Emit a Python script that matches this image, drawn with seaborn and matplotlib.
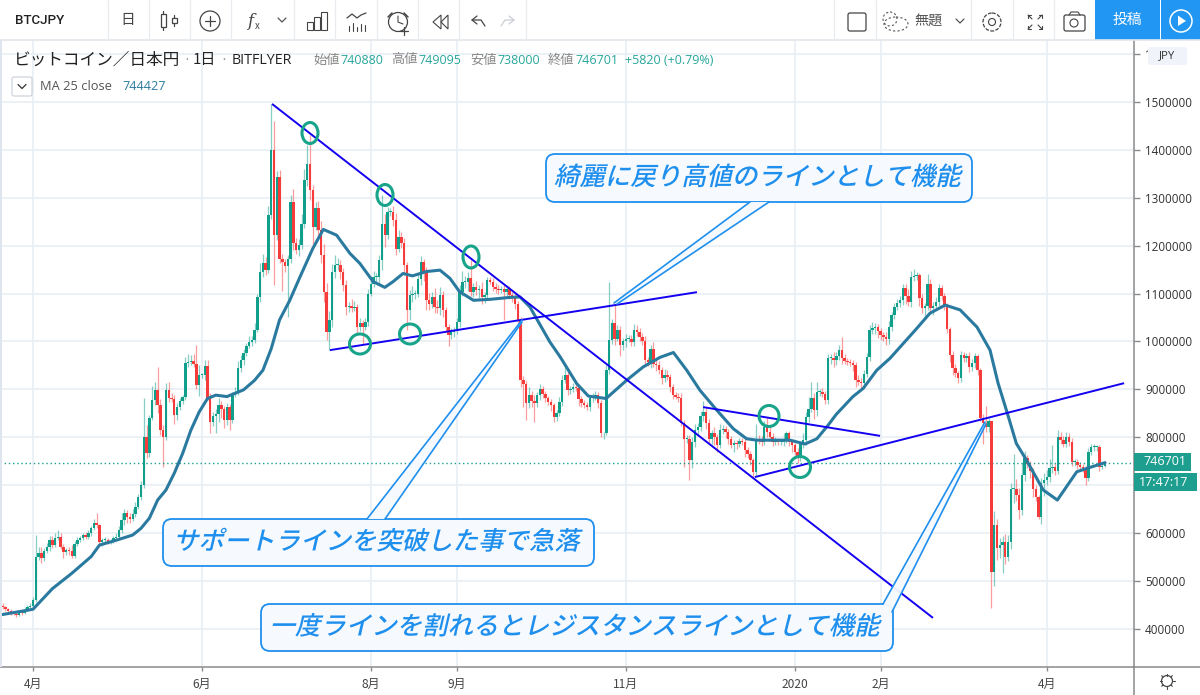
import numpy as np, pandas as pd, matplotlib
matplotlib.use("Agg")
import matplotlib.pyplot as plt
import seaborn as sns
from matplotlib.patches import Rectangle, Ellipse, FancyBboxPatch, Circle, Polygon
from matplotlib.patheffects import AbstractPathEffect
from matplotlib.transforms import Affine2D

# ---------- data (thousand yen) ----------
first_day = -11
closes = [
445,441,438,434,432,430,436,434,440,445,
448,460,551,558,548,562,570,585,575,590,
592,571,560,565,563,553,577,586,590,596,
592,600,610,621,616,581,585,586,582,584,
590,592,606,627,642,634,630,640,655,675,
700,800,767,840,878,899,867,815,801,899,
882,880,847,864,875,884,955,957,960,953,
909,930,930,948,882,832,845,848,867,860,
836,864,836,888,895,945,961,976,990,999,
1003,1024,1093,1145,1163,1150,1264,1400,1222,1344,
1173,1165,1158,1173,1292,1205,1190,1201,1246,1337,
1370,1316,1240,1278,1232,1180,1104,1020,1045,1145,
1160,1160,1145,1118,1072,1075,1069,1072,1031,1038,
1030,1041,1100,1121,1135,1135,1170,1246,1222,1271,
1271,1253,1194,1219,1205,1159,1065,1097,1100,1100,
1130,1166,1142,1086,1079,1093,1072,1069,1097,1065,
1031,1013,1020,1024,1041,1104,1125,1125,1132,1104,
1114,1107,1110,1093,1097,1128,1125,1114,1110,1107,
1110,1104,1110,1097,1093,1079,1045,919,912,871,
888,875,871,888,900,890,881,874,867,843,
850,874,919,930,898,900,905,902,880,871,
868,864,881,885,888,871,808,808,940,1003,
1038,1006,1024,992,1000,1006,1006,999,1024,1020,
1010,1000,961,958,985,954,950,940,923,930,
926,905,888,885,881,829,797,797,752,790,
815,822,845,853,829,797,808,800,784,815,
818,812,797,784,788,787,792,790,773,765,
752,728,797,795,790,822,812,801,790,792,
790,790,795,808,790,784,770,756,787,794,
843,860,881,857,895,895,890,878,965,965,
961,970,982,965,960,958,955,951,920,915,
913,933,968,1024,1028,1031,1022,1013,1010,1005,
1030,1055,1073,1080,1087,1111,1095,1083,1135,1137,
1138,1090,1069,1075,1121,1069,1075,1083,1111,1095,
1076,1027,972,944,935,923,972,965,970,947,
955,970,940,840,830,822,834,519,617,568,
575,582,551,582,693,693,680,648,721,756,
745,730,693,676,634,704,710,718,735,738,
730,801,795,787,801,790,749,749,742,738,
735,714,770,780,780,780,738,741,747]
upper_wick = [
8,3,3,4,3,3,4,3,5,5,
6,6,45,12,14,6,10,8,8,10,
14,8,6,4,5,12,6,5,4,5,
6,6,5,8,20,4,5,5,4,4,
4,8,8,14,8,6,8,10,10,6,
8,82,25,6,30,16,48,12,10,14,
16,10,8,8,6,5,12,16,12,14,
40,20,5,14,14,10,8,12,14,8,
6,8,6,6,10,14,10,8,6,12,
8,14,6,18,20,14,18,95,60,12,
14,10,8,8,14,26,12,14,20,24,
40,62,10,14,16,20,24,18,18,16,
20,14,10,8,10,8,14,12,6,12,
6,8,10,8,12,8,10,60,20,10,
8,12,16,14,10,12,8,10,16,8,
10,12,6,14,16,10,18,14,16,8,
8,6,8,6,8,14,22,12,14,38,
8,12,8,14,6,6,6,8,8,8,
6,8,6,6,6,8,6,6,8,6,
16,8,14,6,12,8,6,6,6,4,
6,10,12,20,12,8,8,10,6,6,
6,6,6,8,8,6,6,4,10,122,
10,38,10,8,8,10,8,8,12,10,
8,8,12,6,8,14,10,10,6,12,
10,6,6,6,8,12,8,8,8,10,
12,8,10,22,8,10,8,14,6,12,
8,6,6,6,6,6,6,6,6,6,
6,4,30,8,8,12,21,10,8,8,
6,6,14,6,6,6,4,8,6,14,
10,25,35,12,20,6,8,6,8,8,
14,8,10,28,8,6,6,6,6,10,
8,8,8,10,12,8,6,6,6,10,
12,6,8,8,8,8,8,14,12,14,
8,4,10,6,20,10,8,10,8,6,
6,4,4,8,8,4,8,6,6,8,
8,6,4,4,8,35,6,0,30,12,
14,12,16,14,12,73,20,14,26,15,
8,6,6,8,4,12,16,14,20,45,
8,14,10,8,10,8,8,6,6,6,
6,6,8,6,6,4,4,4,3]
lower_wick = [
4,3,3,4,4,6,3,4,3,3,
4,5,4,8,10,6,4,8,6,5,
5,4,12,6,8,6,4,4,5,4,
4,4,6,4,6,5,8,4,4,4,
4,4,4,6,10,12,8,4,6,4,
6,6,11,8,4,10,16,10,63,6,
8,6,20,10,8,6,6,8,6,6,
8,22,6,10,4,22,8,36,16,20,
16,10,20,6,4,6,8,10,6,4,
8,6,4,10,10,12,6,8,104,10,
10,60,12,106,10,14,8,12,8,10,
12,20,36,8,12,16,22,16,38,14,
12,10,14,12,16,10,8,6,14,10,
35,6,8,6,8,12,14,20,24,8,
10,12,14,8,10,20,40,20,14,12,
8,12,16,20,14,10,12,10,14,14,
10,22,8,10,8,10,8,14,20,10,
12,10,16,14,12,8,6,8,8,8,
6,60,8,8,10,12,8,14,48,35,
10,12,40,8,10,8,8,6,12,11,
8,6,8,6,10,8,6,6,14,8,
6,8,10,8,8,10,8,11,4,8,
8,14,6,22,10,12,8,8,8,8,
10,8,8,10,14,8,12,8,12,8,
6,10,8,6,8,6,59,8,41,16,
10,12,8,12,12,10,10,16,14,6,
8,14,10,6,14,12,8,6,14,8,
10,11,6,10,8,6,12,8,8,6,
6,6,8,6,8,14,8,10,6,10,
10,12,8,18,12,8,6,8,8,12,
14,10,8,12,8,8,6,12,16,6,
14,10,8,8,8,12,14,10,8,12,
10,8,8,8,8,10,16,8,12,8,
8,16,10,22,10,12,14,10,8,8,
10,10,14,14,10,10,8,8,8,10,
8,10,10,6,44,10,10,76,30,25,
20,59,16,10,15,30,14,18,10,12,
10,14,18,10,4,14,26,10,12,10,
8,6,10,8,8,8,8,8,8,6,
8,14,6,8,8,8,8,5,4]
ma_days = [-11,0,7,14,21,24,30,36,39,42,45,48,51,54,57,60,63,66,70,73,76,80,83,86,89,
 92.7,96.4,101,104.8,109.6,114.4,118,122.8,127,130,133.6,137,142,146.9,150.5,154,159,165,172,175.8,179.4,186.6,
 190.3,196.3,200.5,206.9,214.3,220.3,226.4,231.2,236,240.8,246.8,252.8,257.6,261.3,268.5,273.3,278.7,283,
 287,290,296,299.7,304.6,309.4,314.2,319,323.8,329.3,334.7,340.8,345.5,348.4,351.6,355,358.7,364.7,369.8,376.8,380.4,387]
ma_values = [430,441,484,516,551,575,585,596,610,631,669,690,725,766,815,853,881,888,885,892,899,919,940,985,1045,
 1086,1135,1194,1234,1222,1184,1163,1125,1113,1125,1142,1137,1146,1149,1132,1104,1086,1088,1092,1093,1072,999,
 968,912,886,881,919,947,967,977,940,898,857,818,797,794,794,794,786,797,
 825,848,885,902,940,965,996,1027,1059,1076,1066,1030,982,913,853,787,752,690,669,728,735,747]
month_days = [0,61,122,153,214,275,306,366]
month_labels = ["4月","6月","8月","9月","11月","2020","2月","4月"]
price_ticks = [400,500,600,700,800,900,1000,1100,1200,1300,1400,1500,1600]
# tags hide the 700000 label and all of 1600000 but its first digit
price_labels = ["400000","500000","600000","","800000","900000","1000000","1100000","1200000","1300000","1400000","1500000","1"]
last_price = 746.701
# hand-drawn trend lines: (day, k-yen) start/end
trend_days = [(86.3,324.9),(107.2,239.7),(241.9,305.8),(260.6,393.9)]
trend_vals = [(1496,423),(982,1103),(863,803),(717,913)]

W, H = 1200, 695
UP, DOWN = "#119e8b", "#f63c3a"
BLUE_LINE = "#1400f0"
CALL = "#1f8fee"
CJK = "Noto Sans CJK JP"
sns.set_theme(style="white")
plt.rcParams['font.family'] = [CJK, 'DejaVu Sans']

df = pd.DataFrame({"close": closes, "up": upper_wick, "low": lower_wick})
df["day"] = first_day + np.arange(len(df))
df["open"] = df["close"].shift(1).fillna(446)
df["top"] = df[["open","close"]].max(axis=1)
df["bot"] = df[["open","close"]].min(axis=1)
df["high"] = df["top"] + df["up"]
df["lowv"] = df["bot"] - df["low"]
df["col"] = np.where(df["close"] >= df["open"], UP, DOWN)

fig = plt.figure(figsize=(W/100, H/100), dpi=100, facecolor="white")
ax = fig.add_axes([0, (H-667)/H, 1134/W, 627/H])
ax.set_xlim(-33/2.77, (1134-33)/2.77)
ax.set_ylim(1500-(667-102)*2.0877, 1500+(102-40)*2.0877)

ax.vlines(df["day"], df["lowv"], df["high"], colors=df["col"], linewidth=0.9, alpha=0.5, zorder=2)
ax.bar(df["day"], (df["top"]-df["bot"]).clip(lower=2), bottom=df["bot"], width=0.88, color=df["col"], linewidth=0, zorder=3)
sns.lineplot(x=ma_days, y=ma_values, ax=ax, color="#2a7aa0", linewidth=2.2, zorder=4, legend=False)
ax.axhline(last_price, color="#1d9e8f", lw=1, ls=(0,(1,2)), zorder=2)
for (a,b),(c,d) in zip(trend_days, trend_vals):
    ax.plot([a,b],[c,d], color=BLUE_LINE, lw=1.4, zorder=5, solid_capstyle="butt")

ax.set_xticks(month_days); ax.set_xticklabels(month_labels, fontsize=8.6, color="#444", fontfamily=CJK)
ax.yaxis.tick_right()
ax.set_yticks(price_ticks)
ax.set_yticklabels(price_labels, fontsize=8.4, color="#333", fontfamily="Open Sans")
ax.tick_params(axis="y", length=4, width=1, color="#8a8a8a", pad=4, right=True)
ax.tick_params(axis="x", length=3, width=1, color="#8a8a8a", pad=5, bottom=True)
ax.grid(True, color="#e9eff5", lw=1.2, zorder=0)
ax.set_axisbelow(True)
for s in ("top","left"): ax.spines[s].set_visible(False)
for s in ("right","bottom"):
    ax.spines[s].set_visible(True); ax.spines[s].set_color("#8a8a8a"); ax.spines[s].set_linewidth(1.1)
ax.set_xlabel(""); ax.set_ylabel("")

# ---------- overlay in picture pixels: chrome and callouts ----------
ov = fig.add_axes([0,0,1,1], zorder=10)
ov.set_xlim(0,W); ov.set_ylim(H,0); ov.axis("off"); ov.patch.set_alpha(0)

class Skew(AbstractPathEffect):
    def draw_path(self, renderer, gc, tpath, affine, rgbFace=None):
        renderer.draw_path(gc, tpath, Affine2D().skew_deg(13,0)+affine, rgbFace)

def T(x,y,s,size=9,color="#333",ha="left",va="center",fam=CJK,**kw):
    return ov.text(x,y,s,fontsize=size,color=color,ha=ha,va=va,fontfamily=fam,**kw)
def L(xs,ys,color="#555",lw=0.9,**kw):
    ov.plot(xs,ys,color=color,lw=lw,solid_capstyle="round",**kw)

# left band, toolbar, axis corner
ov.add_patch(Rectangle((0,40),2,627,color="#dfe5ee",lw=0))
ov.add_patch(Rectangle((0,0),W,40,color="white",lw=0))
L([0,W],[40,40],"#e2e6ec",1.2)
L([1134,1134],[667,695],"#8a8a8a",1.1)
L([1134,W],[667,667],"#8a8a8a",1.1)
for x in [108,149,190,231,294,335,377,418,459,526,834,876,971,1013,1054]:
    L([x,x],[0,40],"#e8ebf0",0.9)
T(15,20,"BTCJPY",9.6,"#222",fam="Roboto",weight="medium")
T(128,20,"日",10.5,"#444",ha="center")
for cx,t,b,yt,yb in [(163,11,30,14,27),(174,15,26,18,23)]:
    L([cx,cx],[t,b],"#444"); ov.add_patch(Rectangle((cx-2.5,yt),5,yb-yt,fc="white",ec="#444",lw=0.9,zorder=3))
ov.add_patch(Circle((210,21),10,fc="none",ec="#444",lw=0.9))
L([205,215],[21,21],"#444"); L([210,210],[16,26],"#444")
T(250,21,"f",12,"#444",ha="center",style="italic",fam="DejaVu Serif"); T(257,26,"x",7,"#444",ha="center")
def chev(cx,cy,c="#555"): L([cx-4,cx,cx+4],[cy-2,cy+2,cy-2],c)
chev(282,20)
for x,h in [(307,8),(314,13),(321,18)]:
    ov.add_patch(Rectangle((x,30-h),6,h,fc="none",ec="#444",lw=0.8))
L([347,352,357,361,366],[18,14,18,15,13],"#444")
for x,h in [(349,5),(353,8),(357,4),(361,7),(365,6)]:
    L([x,x],[31,31-h],"#444",0.8)
ov.add_patch(Circle((398,22),9.5,fc="white",ec="#444",lw=0.9))
L([398,398,403],[16,22,24],"#444",0.8); L([388,392],[17,13],"#444",1.1); L([404,408],[13,17],"#444",1.1)
L([404,404],[27,35],"#444"); L([400,408],[31,31],"#444")
ov.add_patch(Polygon([[433,22],[441,15],[441,29]],fc="none",ec="#444",lw=0.8))
ov.add_patch(Polygon([[441,22],[448,15],[448,29]],fc="none",ec="#444",lw=0.8))
L([477,472,477],[16,20,24],"#444"); L([472,481,485],[20,20,26],"#444")
L([509,514,509],[16,20,24],"#c9ced6"); L([514,505,501],[20,20,26],"#c9ced6")
ov.add_patch(FancyBboxPatch((848,13),18,18,boxstyle="round,pad=0,rounding_size=2",fc="white",ec="#444",lw=0.9))
ov.add_patch(Ellipse((896,24),24,14,fc="none",ec="#555",lw=0.8,ls=(0,(2,2))))
ov.add_patch(Ellipse((890,19),14,14,fc="none",ec="#555",lw=0.8,ls=(0,(2,2))))
T(914,21,"無題",10.2,"#555")
chev(960,21)
ov.add_patch(Circle((992,22),9,fc="none",ec="#444",lw=0.9,ls=(0,(3,1.2))))
ov.add_patch(Circle((992,22),3.5,fc="none",ec="#444",lw=0.8))
for sx,sy in [(1028,15),(1042,15),(1028,29),(1042,29)]:
    dx = 1 if sx<1035 else -1; dy = 1 if sy<22 else -1
    L([sx,sx+dx*4],[sy,sy+dy*4],"#444",0.8); L([sx,sx+dx*3],[sy,sy],"#444",0.8); L([sx,sx],[sy,sy+dy*3],"#444",0.8)
ov.add_patch(FancyBboxPatch((1064,15),21,16,boxstyle="round,pad=0,rounding_size=2",fc="white",ec="#444",lw=0.9))
L([1069,1071,1078,1080],[15,12,12,15],"#444",0.8)
ov.add_patch(Circle((1074,23),4,fc="none",ec="#444",lw=0.8))
ov.add_patch(Rectangle((1095,0),65,40,color="#2196f3",lw=0))
ov.add_patch(Rectangle((1161,0),39,40,color="#2196f3",lw=0))
T(1127,20,"投稿",10.6,"white",ha="center")
ov.add_patch(Circle((1181,21),11,fc="none",ec="white",lw=1.1))
ov.add_patch(Polygon([[1178,15.5],[1178,26],[1186,21]],fc="white",lw=0))

# legend row
T(14,60,"ビットコイン／日本円",12,"#222")
T(187,60,"·",9,"#888",ha="center")
T(193,60,"1日",10.8,"#222")
T(224,60,"·",9,"#888",ha="center")
T(232,60,"BITFLYER",10.3,"#222",fam="Open Sans")
seg = [(313,"始値","#888"),(340,"740880","#26a69a"),(391,"高値","#888"),(418,"749095","#26a69a"),
       (470,"安値","#888"),(497,"738000","#26a69a"),(548,"終値","#888"),(575,"746701","#26a69a"),(625,"+5820 (+0.79%)","#26a69a")]
for x,s,c in seg:
    T(x,60,s,9.5 if c=="#888" else 9,c,fam=CJK if c=="#888" else "Open Sans")
ov.add_patch(FancyBboxPatch((12,77),20,19,boxstyle="round,pad=0,rounding_size=2",fc="white",ec="#cfd4dc",lw=0.9))
chev(22,86.5,"#333")
T(40,86,"MA 25 close",9.3,"#555",fam="Open Sans")
T(122,86,"744427",9.1,"#2a7aa0",fam="Open Sans")

# right scale tags
ov.add_patch(FancyBboxPatch((1148,47),39,18,boxstyle="round,pad=0,rounding_size=3",fc="#f1f3fa",ec="none"))
T(1167,56,"JPY",8.2,"#333",ha="center",fam="Open Sans")
ov.add_patch(Rectangle((1134,452.5),57,18,color="#1d9e8f",lw=0))
ov.add_patch(Rectangle((1134,473),63,18,color="#1d9e8f",lw=0))
T(1143,461.5,"746701",9,"white",fam="Open Sans")
T(1139,482,"17:47:17",9,"white",fam="Open Sans")
ov.add_patch(Circle((1167,681),5.5,fc="none",ec="#444",lw=0.9))
for a in np.deg2rad(np.arange(0,360,45)):
    L([1167+5.5*np.cos(a),1167+7.5*np.cos(a)],[681+5.5*np.sin(a),681+7.5*np.sin(a)],"#444",0.8)

# green circles
for cx,cy,rx,ry in [(310,133,8,10.5),(385,195,8,10.5),(471,257,8,11),(360,344,10.5,10),(410,334,10.5,10),(769,416,10,10.5),(800,467,10.5,10.5)]:
    ov.add_patch(Ellipse((cx,cy),2*rx,2*ry,fc="none",ec="#17a48a",lw=2.2,zorder=6))

# callouts
BOXFC = "#f6fafe"
def callout(x0,y0,x1,y1,p1,tip1,tip2,p2,text,tx):
    ov.add_patch(FancyBboxPatch((x0,y0),x1-x0,y1-y0,boxstyle="round,pad=0,rounding_size=9",fc=BOXFC,ec=CALL,lw=1.3,zorder=7))
    ov.add_patch(Polygon([p1,tip1,tip2,p2],fc=BOXFC,ec="none",alpha=0.95,zorder=7.2))
    L([p1[0],tip1[0]],[p1[1],tip1[1]],CALL,1.2,zorder=7.4)
    L([p2[0],tip2[0]],[p2[1],tip2[1]],CALL,1.2,zorder=7.4)
    t = T(tx,(y0+y1)/2,text,18.3,CALL,ha="center",weight="medium",zorder=8)
    t.set_path_effects([Skew()])
callout(546,154,972,202,(750,202),(614,303),(617,304),(769,202),"綺麗に戻り高値のラインとして機能",757)
callout(163,519,594,566,(367,519),(522,320),(522,322),(385,519),"サポートラインを突破した事で急落",376)
callout(261,604,893,651,(883,604),(985,422),(986,424),(892,612),"一度ラインを割れるとレジスタンスラインとして機能",574)

fig.savefig("out.png", dpi=100)
